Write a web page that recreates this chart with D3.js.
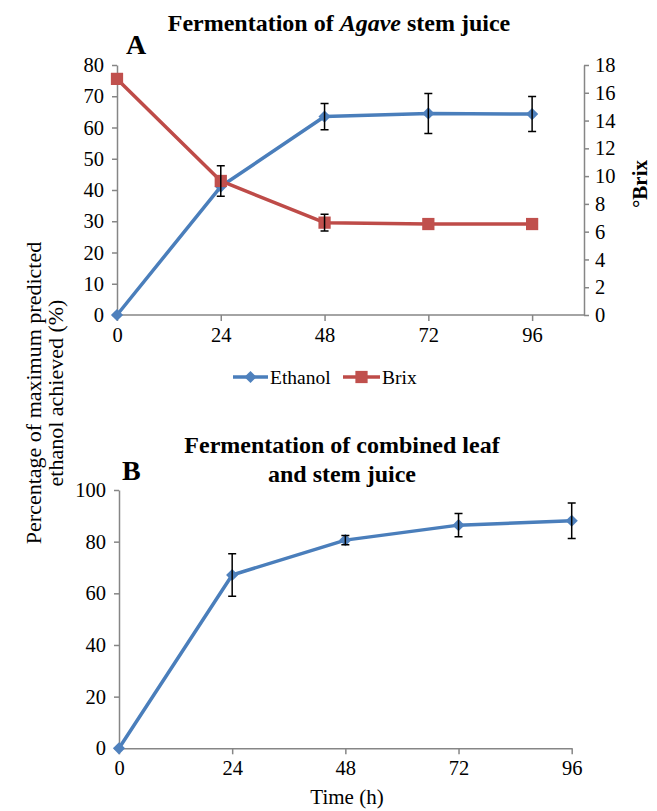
<!DOCTYPE html>
<meta charset="utf-8">
<style>
body { margin: 0; background: #fff; }
svg text { font-family: "Liberation Serif", "Times New Roman", serif; fill: #000; }
.axis path, .axis line { stroke: #868686; stroke-width: 1.5; }
.axis text { font-size: 20.5px; }
.title { font-size: 24px; font-weight: bold; text-anchor: middle; }
.panel { font-size: 28px; font-weight: bold; }
.err { stroke: #000; stroke-width: 1.5; fill: none; }
</style>
<svg width="657" height="811"></svg>
<script src="https://cdn.jsdelivr.net/npm/d3@7"></script>
<script>

var hours = [0, 24, 48, 72, 96];

// panel A
var ethanolA = [0, 41.1, 63.5, 64.5, 64.3],
    ethanolAErr = [0, 0, 4.2, 6.4, 5.6],
    brixA = [17.0, 9.65, 6.65, 6.55, 6.55],
    brixAErr = [0, 1.1, 0.6, 0, 0];

// panel B
var ethanolB = [0, 67.1, 80.6, 86.4, 88.1],
    ethanolBErr = [0, 8.2, 1.8, 4.5, 6.9];

var leftTicksA = [0, 10, 20, 30, 40, 50, 60, 70, 80],
    rightTicksA = [0, 2, 4, 6, 8, 10, 12, 14, 16, 18],
    leftTicksB = [0, 20, 40, 60, 80, 100];

var blue = "#4a7ebb", blueFill = "#4f81bd",
    red = "#be4b48", redFill = "#c0504d";

var svg = d3.select("svg");

var xA = d3.scaleLinear().domain([0, 108]).range([117, 584]),
    yA = d3.scaleLinear().domain([0, 80]).range([315, 65]),
    yBrix = d3.scaleLinear().domain([0, 18]).range([315, 65]);

var xB = d3.scaleLinear().domain([0, 96]).range([119, 571.7]),
    yB = d3.scaleLinear().domain([0, 100]).range([748.3, 490]);

// axes A
svg.append("g").attr("class", "axis")
    .attr("transform", "translate(0," + yA(0) + ")")
    .call(d3.axisBottom(xA).tickValues(hours).tickSize(6).tickSizeOuter(0).tickPadding(6))
    .call(function(g) { g.select(".domain").attr("d", "M" + xA(0) + ",0H" + xA(108)); });

svg.append("g").attr("class", "axis")
    .attr("transform", "translate(" + xA(0) + ",0)")
    .call(d3.axisLeft(yA).tickValues(leftTicksA).tickSize(5).tickSizeOuter(0).tickPadding(8));

svg.append("g").attr("class", "axis")
    .attr("transform", "translate(" + xA(108) + ",0)")
    .call(d3.axisRight(yBrix).tickValues(rightTicksA).tickSize(5).tickSizeOuter(0).tickPadding(6));

// axes B
svg.append("g").attr("class", "axis")
    .attr("transform", "translate(0," + yB(0) + ")")
    .call(d3.axisBottom(xB).tickValues(hours).tickSize(6).tickSizeOuter(0).tickPadding(6));

svg.append("g").attr("class", "axis")
    .attr("transform", "translate(" + xB(0) + ",0)")
    .call(d3.axisLeft(yB).tickValues(leftTicksB).tickSize(5).tickSizeOuter(0).tickPadding(8));

svg.selectAll(".axis .domain").attr("fill", "none");

var diamond = d3.symbol().type(d3.symbolDiamond2).size(95),
    square = d3.symbol().type(d3.symbolSquare).size(150);

function series(x, y, vals, errs, color, fill, sym) {
  var pts = hours.map(function(h, i) { return {x: h, v: vals[i], e: errs[i]}; });
  svg.append("path")
      .datum(pts)
      .attr("fill", "none")
      .attr("stroke", color)
      .attr("stroke-width", 3.5)
      .attr("stroke-linejoin", "round")
      .attr("d", d3.line().x(function(d) { return x(d.x); }).y(function(d) { return y(d.v); }));
  svg.append("g").selectAll("path")
      .data(pts)
    .enter().append("path")
      .attr("transform", function(d) { return "translate(" + x(d.x) + "," + y(d.v) + ")"; })
      .attr("fill", fill)
      .attr("d", sym);
  return pts;
}

function errorBars(x, y, pts) {
  svg.append("g").selectAll("path")
      .data(pts.filter(function(d) { return d.e > 0; }))
    .enter().append("path")
      .attr("class", "err")
      .attr("d", function(d) {
        var cx = x(d.x), t = y(d.v + d.e), b = y(d.v - d.e);
        return "M" + (cx - 4) + "," + t + "H" + (cx + 4) + "M" + cx + "," + t + "V" + b +
               "M" + (cx - 4) + "," + b + "H" + (cx + 4);
      });
}

var pE = series(xA, yA, ethanolA, ethanolAErr, blue, blueFill, diamond);
var pBx = series(xA, yBrix, brixA, brixAErr, red, redFill, square);
errorBars(xA, yA, pE);
errorBars(xA, yBrix, pBx);

var pB = series(xB, yB, ethanolB, ethanolBErr, blue, blueFill, diamond);
errorBars(xB, yB, pB);

// titles
var tA = svg.append("text").attr("class", "title").attr("x", 339).attr("y", 31);
tA.append("tspan").text("Fermentation of ");
tA.append("tspan").attr("font-style", "italic").text("Agave");
tA.append("tspan").text(" stem juice");

svg.append("text").attr("class", "panel").attr("x", 126).attr("y", 54).text("A");

var tB = svg.append("text").attr("class", "title").attr("x", 342).attr("y", 453);
tB.append("tspan").text("Fermentation of combined leaf");
tB.append("tspan").attr("x", 342).attr("dy", 29).text("and stem juice");

svg.append("text").attr("class", "panel").attr("x", 122).attr("y", 480).text("B");

// axis titles
var yl = svg.append("text")
    .attr("transform", "translate(41,393) rotate(-90)")
    .attr("text-anchor", "middle")
    .style("font-size", "22px");
yl.append("tspan").attr("x", 0).text("Percentage of maximum predicted");
yl.append("tspan").attr("x", 0).attr("dy", 22).text("ethanol achieved (%)");

svg.append("text")
    .attr("transform", "translate(647,184) rotate(-90)")
    .attr("text-anchor", "middle")
    .style("font-size", "21px")
    .style("font-weight", "bold")
    .text("°Brix");

svg.append("text")
    .attr("x", 347).attr("y", 804)
    .attr("text-anchor", "middle")
    .style("font-size", "21px")
    .text("Time (h)");

// legend
var legend = [
  {name: "Ethanol", color: blue, fill: blueFill, sym: diamond, x0: 233, x1: 268},
  {name: "Brix", color: red, fill: redFill, sym: square, x0: 343, x1: 380}
];
var lg = svg.append("g").selectAll("g").data(legend).enter().append("g");
lg.append("line")
    .attr("x1", function(d) { return d.x0; }).attr("x2", function(d) { return d.x1; })
    .attr("y1", 377).attr("y2", 377)
    .attr("stroke", function(d) { return d.color; })
    .attr("stroke-width", 3.5);
lg.append("path")
    .attr("transform", function(d) { return "translate(" + (d.x0 + d.x1) / 2 + ",377)"; })
    .attr("fill", function(d) { return d.fill; })
    .attr("d", function(d) { return d.sym(); });
lg.append("text")
    .attr("x", function(d) { return d.x1 + 2; }).attr("y", 384)
    .style("font-size", "19.5px")
    .text(function(d) { return d.name; });

</script>
